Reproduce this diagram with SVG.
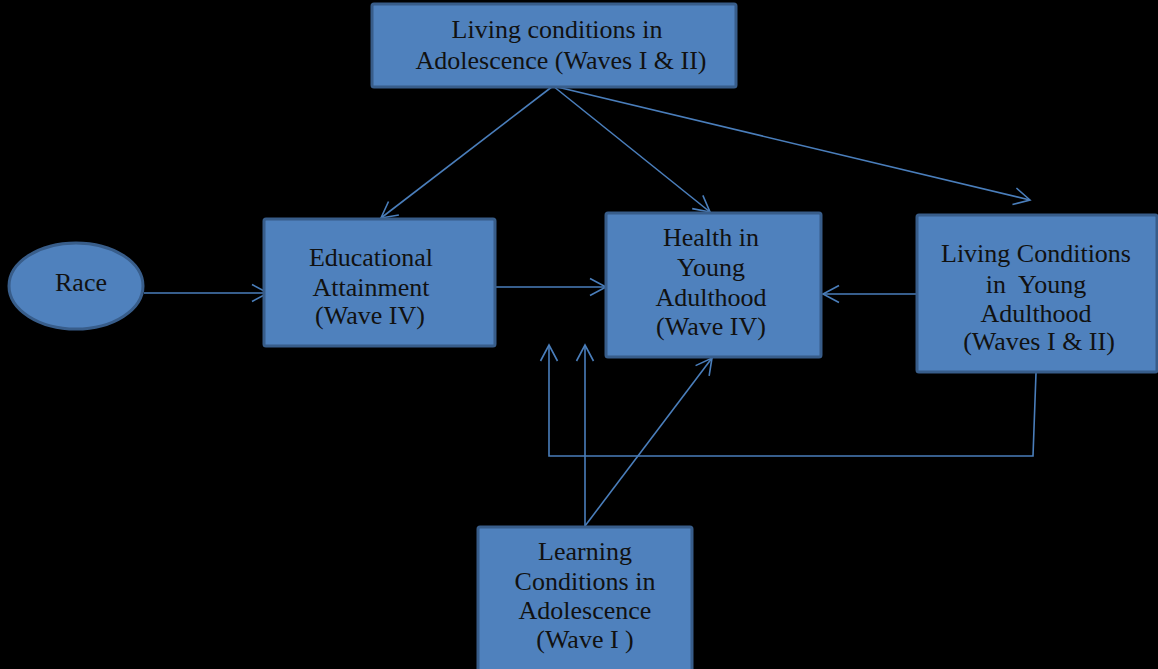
<svg xmlns="http://www.w3.org/2000/svg" width="1158" height="669" viewBox="0 0 1158 669">
<style>
.node{fill:#4F81BD;stroke:#385D8A;stroke-width:3}
.lbl{font-family:"Liberation Serif","Times New Roman",serif;font-size:26px;fill:#111;text-anchor:middle}
.edge{fill:none;stroke:#4A7EBB;stroke-width:1.6}
</style>
<defs>
<marker id="arr" markerUnits="userSpaceOnUse" markerWidth="20" markerHeight="20" refX="16" refY="8.5" orient="auto" overflow="visible">
<path d="M0,0 L16,8.5 L0,17" fill="none" stroke="#4A7EBB" stroke-width="1.6"/>
</marker>
</defs>
<rect x="0" y="0" width="1158" height="669" fill="#000"/>
<g id="connectors">
<line class="edge" x1="144" y1="293" x2="268" y2="293" marker-end="url(#arr)"/>
<line class="edge" x1="495" y1="287" x2="606" y2="287" marker-end="url(#arr)"/>
<line class="edge" x1="917" y1="294" x2="823" y2="294" marker-end="url(#arr)"/>
<line class="edge" x1="553" y1="86" x2="381" y2="218" marker-end="url(#arr)"/>
<line class="edge" x1="553" y1="86" x2="710" y2="212" marker-end="url(#arr)"/>
<line class="edge" x1="553" y1="86" x2="1030" y2="200" marker-end="url(#arr)"/>
<line class="edge" x1="585" y1="526" x2="712" y2="358" marker-end="url(#arr)"/>
<line class="edge" x1="585" y1="526" x2="585" y2="345" marker-end="url(#arr)"/>
<polyline class="edge" points="1036,373 1033,456 549,456 549,345" marker-end="url(#arr)"/>
</g>
<g id="top">
<rect class="node" x="372" y="4" width="364" height="83" rx="2"/>
<text class="lbl" x="557" y="38">Living conditions in</text>
<text class="lbl" x="561" y="69">Adolescence (Waves I &amp; II)</text>
</g>
<g id="race">
<ellipse class="node" cx="76" cy="286" rx="67" ry="43"/>
<text class="lbl" x="81" y="291">Race</text>
</g>
<g id="education">
<rect class="node" x="264" y="219" width="231" height="127" rx="2"/>
<text class="lbl" x="371" y="266">Educational</text>
<text class="lbl" x="371" y="296">Attainment</text>
<text class="lbl" x="370" y="324">(Wave IV)</text>
</g>
<g id="health">
<rect class="node" x="606" y="213" width="215" height="144" rx="2"/>
<text class="lbl" x="711" y="246">Health in</text>
<text class="lbl" x="711" y="276">Young</text>
<text class="lbl" x="711" y="306">Adulthood</text>
<text class="lbl" x="711" y="335">(Wave IV)</text>
</g>
<g id="living-ya">
<rect class="node" x="917" y="215" width="240" height="157" rx="2"/>
<text class="lbl" x="1036" y="262">Living Conditions</text>
<text class="lbl" x="1036" y="293" xml:space="preserve">in  Young</text>
<text class="lbl" x="1036" y="322">Adulthood</text>
<text class="lbl" x="1039" y="350">(Waves I &amp; II)</text>
</g>
<g id="learning">
<rect class="node" x="478" y="527" width="214" height="145" rx="2"/>
<text class="lbl" x="585" y="560">Learning</text>
<text class="lbl" x="585" y="590">Conditions in</text>
<text class="lbl" x="585" y="619">Adolescence</text>
<text class="lbl" x="585" y="648">(Wave I )</text>
</g>
</svg>
